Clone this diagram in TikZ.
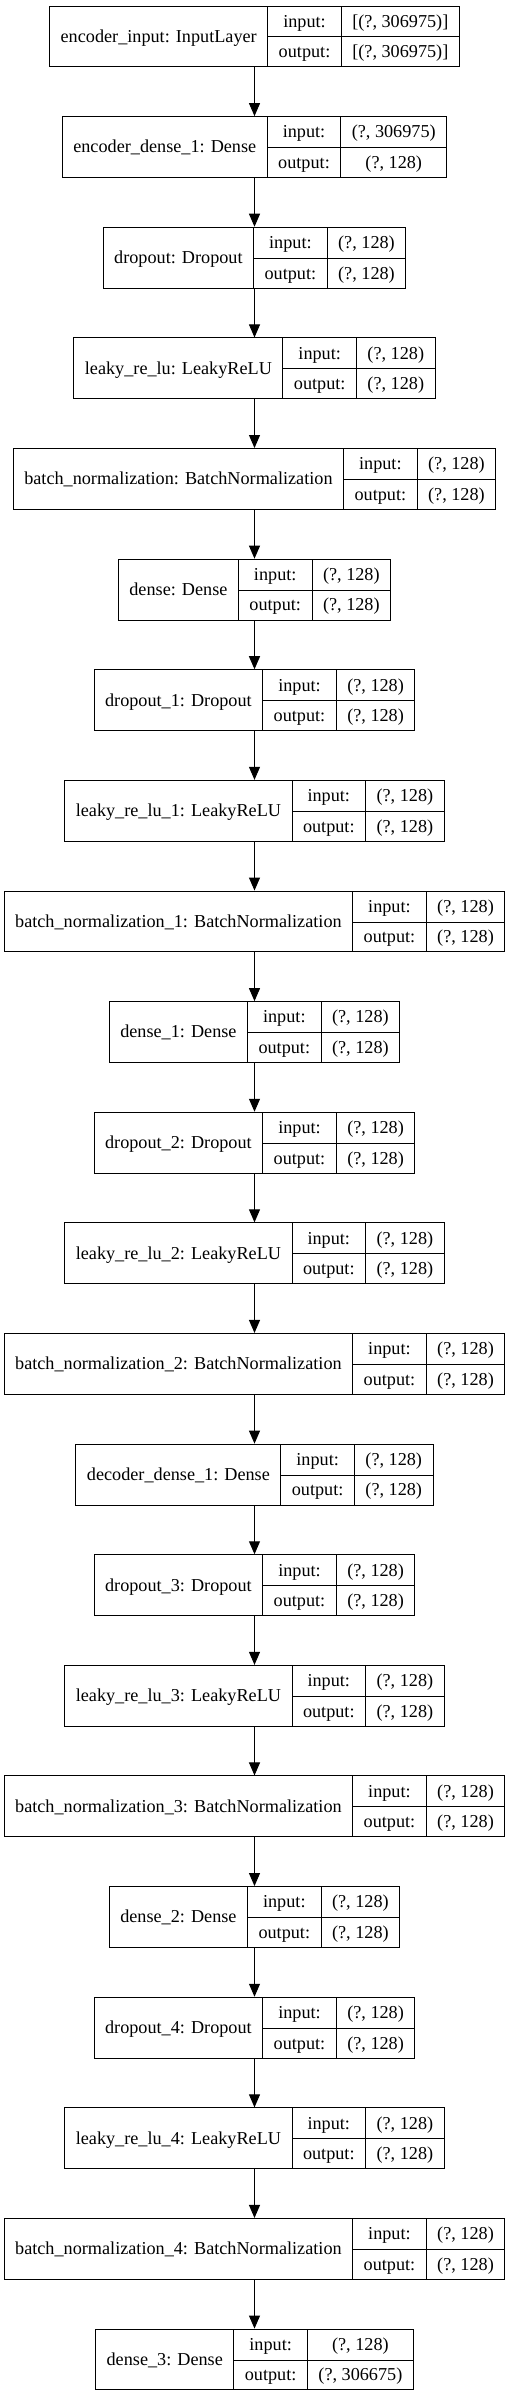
\documentclass[tikz,border=0pt]{standalone}
\usepackage{fontspec}
\setmainfont{Liberation Serif}
\usetikzlibrary{arrows.meta}

% one keras layer record: name | input:/output: | shapes
\setlength{\tabcolsep}{11pt}
\setlength{\arrayrulewidth}{1pt}
\newcommand{\rec}[3]{%
  \renewcommand{\arraystretch}{1.41}%
  \begin{tabular}{c|c|c}
    & input: & #2 \\ \cline{2-3}
    \raisebox{15.5pt}[0pt][0pt]{#1} & output: & #3
  \end{tabular}}

\tikzset{
  layer/.style={draw, line width=1pt, inner sep=0pt,
    font=\fontsize{18.2}{21.6}\selectfont},
  flow/.style={line width=1pt, -{Triangle[length=13pt,width=11pt]}}
}

\begin{document}
\begin{tikzpicture}[x=1pt, y=-1pt]
\useasboundingbox (0,0) rectangle (509,2397);

% encoder
\node [layer] (l0) at (254.5,36.5) {\rec{encoder\_input: InputLayer}{[(?, 306975)]}{[(?, 306975)]}};
\node [layer] (l1) at (254.5,147.1) {\rec{encoder\_dense\_1: Dense}{(?, 306975)}{(?, 128)}};
\node [layer] (l2) at (254.5,257.7) {\rec{dropout: Dropout}{(?, 128)}{(?, 128)}};
\node [layer] (l3) at (254.5,368.4) {\rec{leaky\_re\_lu: LeakyReLU}{(?, 128)}{(?, 128)}};
\node [layer] (l4) at (254.5,479.0) {\rec{batch\_normalization: BatchNormalization}{(?, 128)}{(?, 128)}};

% hidden
\node [layer] (l5) at (254.5,589.6) {\rec{dense: Dense}{(?, 128)}{(?, 128)}};
\node [layer] (l6) at (254.5,700.2) {\rec{dropout\_1: Dropout}{(?, 128)}{(?, 128)}};
\node [layer] (l7) at (254.5,810.8) {\rec{leaky\_re\_lu\_1: LeakyReLU}{(?, 128)}{(?, 128)}};
\node [layer] (l8) at (254.5,921.5) {\rec{batch\_normalization\_1: BatchNormalization}{(?, 128)}{(?, 128)}};
\node [layer] (l9) at (254.5,1032.1) {\rec{dense\_1: Dense}{(?, 128)}{(?, 128)}};
\node [layer] (l10) at (254.5,1142.7) {\rec{dropout\_2: Dropout}{(?, 128)}{(?, 128)}};
\node [layer] (l11) at (254.5,1253.3) {\rec{leaky\_re\_lu\_2: LeakyReLU}{(?, 128)}{(?, 128)}};
\node [layer] (l12) at (254.5,1363.9) {\rec{batch\_normalization\_2: BatchNormalization}{(?, 128)}{(?, 128)}};

% decoder
\node [layer] (l13) at (254.5,1474.6) {\rec{decoder\_dense\_1: Dense}{(?, 128)}{(?, 128)}};
\node [layer] (l14) at (254.5,1585.2) {\rec{dropout\_3: Dropout}{(?, 128)}{(?, 128)}};
\node [layer] (l15) at (254.5,1695.8) {\rec{leaky\_re\_lu\_3: LeakyReLU}{(?, 128)}{(?, 128)}};
\node [layer] (l16) at (254.5,1806.4) {\rec{batch\_normalization\_3: BatchNormalization}{(?, 128)}{(?, 128)}};
\node [layer] (l17) at (254.5,1917.0) {\rec{dense\_2: Dense}{(?, 128)}{(?, 128)}};
\node [layer] (l18) at (254.5,2027.7) {\rec{dropout\_4: Dropout}{(?, 128)}{(?, 128)}};
\node [layer] (l19) at (254.5,2138.3) {\rec{leaky\_re\_lu\_4: LeakyReLU}{(?, 128)}{(?, 128)}};
\node [layer] (l20) at (254.5,2248.9) {\rec{batch\_normalization\_4: BatchNormalization}{(?, 128)}{(?, 128)}};
\node [layer] (l21) at (254.5,2359.5) {\rec{dense\_3: Dense}{(?, 128)}{(?, 306675)}};

% arrows
\foreach \a [evaluate=\a as \b using int(\a+1)] in {0,...,20}
  \draw [flow] (l\a.south) -- (l\b.north);

\end{tikzpicture}
\end{document}
